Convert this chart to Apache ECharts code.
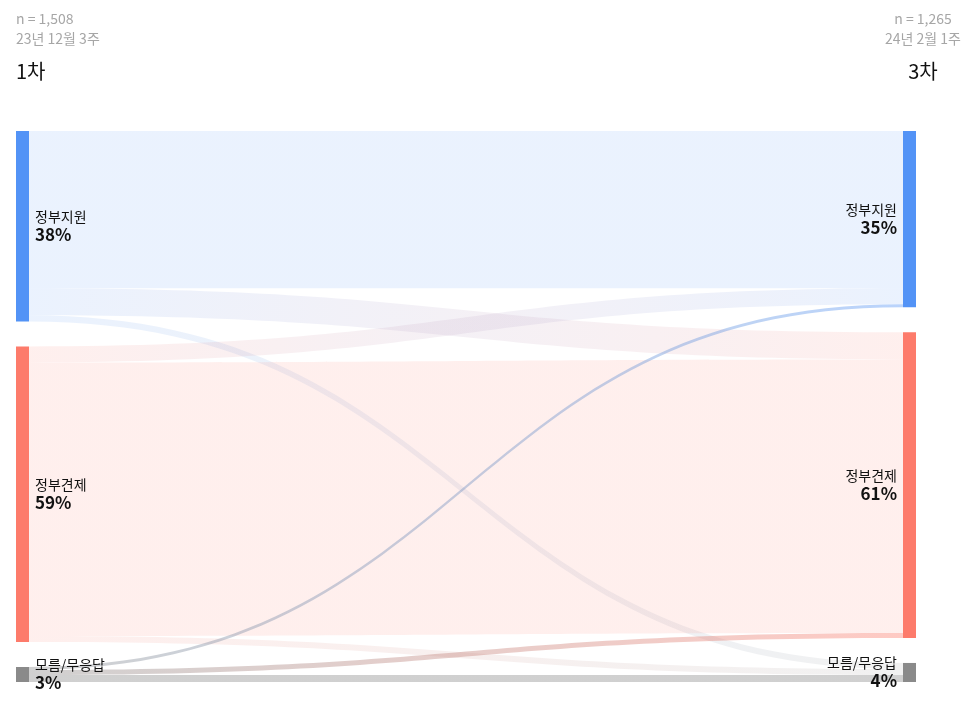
<!DOCTYPE html>
<html>
<head>
<meta charset="utf-8">
<script src="https://cdn.jsdelivr.net/npm/echarts@6/dist/echarts.min.js"></script>
<style>
  html, body { margin: 0; padding: 0; background: #fff; }
  #chart { width: 970px; height: 714px; }
</style>
</head>
<body>
<div id="chart"></div>
<script>
  // 응답 항목
  var categories = ['정부지원', '정부견제', '모름/무응답']
  // 조사 차수
  var waves = ['1차', '3차']
  var waveSample = ['n = 1,508', 'n = 1,265']
  var waveDate = ['23년 12월 3주', '24년 2월 1주']
  // 차수별 비율(%)
  var firstPct = [38, 59, 3]
  var thirdPct = [35, 61, 4]
  // 1차 -> 3차 이동 (행: 1차 응답, 열: 3차 응답)
  var flows = [
    [31.4, 5.4, 1.2],
    [3.2, 54.6, 1.2],
    [0.6, 1.0, 1.4]
  ]

  var colors = ['#5393f6', '#fd7b6b', '#8a8a8a']
  var font = '"Noto Sans CJK KR", "Noto Sans", sans-serif'

  var nodes = []
  categories.forEach(function (c, i) {
    nodes.push({
      name: waves[0] + ' ' + c, cat: c, pct: firstPct[i],
      itemStyle: { color: colors[i] },
      label: { position: 'right', align: 'left' }
    })
  })
  categories.forEach(function (c, i) {
    nodes.push({
      name: waves[1] + ' ' + c, cat: c, pct: thirdPct[i],
      itemStyle: { color: colors[i] },
      label: { position: 'left', align: 'right' }
    })
  })

  var links = []
  flows.forEach(function (row, i) {
    row.forEach(function (v, j) {
      links.push({
        source: waves[0] + ' ' + categories[i],
        target: waves[1] + ' ' + categories[j],
        value: v,
        // 모름/무응답 에서 나가는 흐름은 진하게
        lineStyle: { opacity: i === 2 ? 0.4 : 0.12 }
      })
    })
  })

  var subStyle = { fontSize: 14, fontWeight: 'normal', color: '#a6a6a6', fontFamily: font }
  var waveStyle = { fontSize: 20, fontWeight: 'normal', color: '#111', fontFamily: font }

  var chart = echarts.init(document.getElementById('chart'))
  chart.setOption({
    backgroundColor: '#fff',
    animation: false,
    title: [
      { text: waveSample[0], left: 16, top: 12, padding: 0, textStyle: subStyle },
      { text: waveDate[0], left: 16, top: 32, padding: 0, textStyle: subStyle },
      { text: waves[0], left: 16, top: 61, padding: 0, textStyle: waveStyle },
      { text: waveSample[1], left: 923, top: 12, padding: 0, textAlign: 'center', textStyle: subStyle },
      { text: waveDate[1], left: 923, top: 32, padding: 0, textAlign: 'center', textStyle: subStyle },
      { text: waves[1], left: 923, top: 61, padding: 0, textAlign: 'center', textStyle: waveStyle }
    ],
    series: [{
      type: 'sankey',
      left: 16,
      right: 54,
      top: 131,
      bottom: 32,
      nodeWidth: 13,
      nodeGap: 25,
      draggable: false,
      emphasis: { disabled: true },
      lineStyle: { color: 'gradient', curveness: 0.5 },
      label: {
        distance: 6,
        fontFamily: font,
        formatter: function (p) {
          return '{a|' + p.data.cat + '}\n{b|' + p.data.pct + '%}'
        },
        rich: {
          a: { fontSize: 14, lineHeight: 17, color: '#111', fontFamily: font },
          b: { fontSize: 17, lineHeight: 19, fontWeight: 'bold', color: '#111', fontFamily: font }
        }
      },
      data: nodes,
      links: links
    }]
  })
</script>
</body>
</html>
